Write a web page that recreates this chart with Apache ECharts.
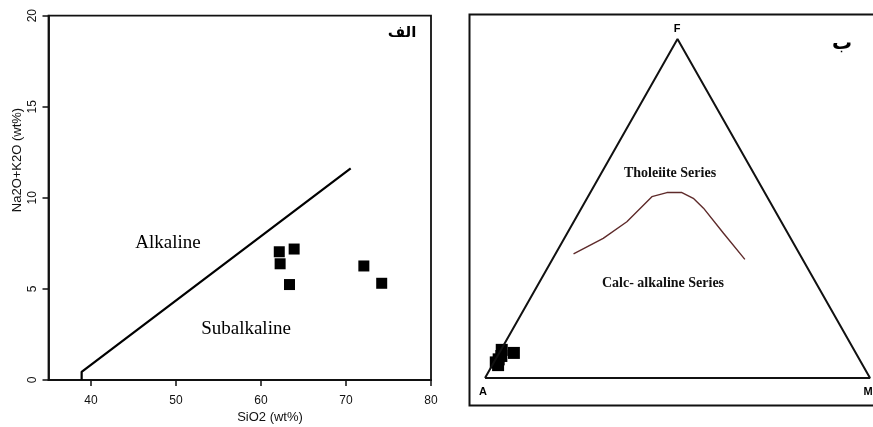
<!DOCTYPE html>
<html>
<head>
<meta charset="utf-8">
<script src="https://cdn.jsdelivr.net/npm/echarts@6/dist/echarts.min.js"></script>
<style>
html,body{margin:0;padding:0;background:#fff;}
#c{width:873px;height:427px;}
</style>
</head>
<body>
<div id="c"></div>
<script>
// ---- Left panel: TAS-type diagram (SiO2 vs Na2O+K2O) ----
const sampleSiO2 = [62.15, 63.9, 62.25, 63.35, 72.1, 74.2];
const sampleAlk  = [7.04, 7.19, 6.38, 5.24, 6.26, 5.31];
const boundarySiO2 = [38.9, 38.9, 70.55];
const boundaryAlk  = [0, 0.45, 11.62];
const xTicks = [40, 50, 60, 70, 80];
const yTicks = [0, 5, 10, 15, 20];

// ---- Right panel: AFM ternary diagram (A, F, M in %) ----
const cornerA = [100, 0, 0, 100];
const cornerF = [0, 0, 100, 0];
const cornerM = [0, 100, 0, 0];
const curveF = [36.6, 41.2, 46.1, 53.5, 54.7, 54.7, 53.0, 50.1, 42.7, 35.0];
const curveM = [4.7, 10.1, 13.8, 16.6, 19.9, 23.8, 27.6, 31.7, 40.6, 50.0];
const afmF = [8.3, 7.4, 6.5, 5.5, 3.8, 4.6];
const afmM = [0.2, 3.8, 1.0, 0.8, 1.5, 0.5];

function tern(F, M) { return [M + F / 2, F]; }

const chart = echarts.init(document.getElementById('c'), null, {renderer: 'canvas'});
const ink = '#111';
const sans = 'Liberation Sans, Arial, sans-serif';
const serif = 'Liberation Serif, Times New Roman, serif';
const ctr = {textAlign: 'center', textVerticalAlign: 'middle', align: 'center', verticalAlign: 'middle'};

const option = {
  backgroundColor: '#fff',
  animation: false,
  grid: [
    {left: 48.5, top: 15.7, width: 382.5, height: 364.3, show: true, borderColor: ink, borderWidth: 1.8, backgroundColor: 'transparent'},
    {left: 485, top: 39, width: 385, height: 339, show: false}
  ],
  xAxis: [
    {gridIndex: 0, type: 'value', min: 35, max: 80,
     axisLine: {show: true, lineStyle: {color: ink, width: 1.8}},
     axisTick: {show: true, length: 6, customValues: xTicks, lineStyle: {color: ink, width: 1.5}},
     axisLabel: {customValues: xTicks, fontSize: 12, color: '#111', fontFamily: sans, margin: 15},
     splitLine: {show: false}},
    {gridIndex: 1, type: 'value', min: 0, max: 100, show: false}
  ],
  yAxis: [
    {gridIndex: 0, type: 'value', min: 0, max: 20,
     axisLine: {show: true, lineStyle: {color: ink, width: 1.8}},
     axisTick: {show: true, length: 6, customValues: yTicks, lineStyle: {color: ink, width: 1.5}},
     axisLabel: {customValues: yTicks, fontSize: 12, color: '#111', fontFamily: sans, rotate: 90, margin: 10},
     splitLine: {show: false}},
    {gridIndex: 1, type: 'value', min: 0, max: 100, show: false}
  ],
  series: [
    {type: 'line', xAxisIndex: 0, yAxisIndex: 0,
     data: boundarySiO2.map((x, i) => [x, boundaryAlk[i]]),
     symbol: 'none', lineStyle: {color: '#000', width: 2.2}, clip: false},
    {type: 'scatter', xAxisIndex: 0, yAxisIndex: 0,
     data: sampleSiO2.map((x, i) => [x, sampleAlk[i]]),
     symbol: 'rect', symbolSize: 11, itemStyle: {color: '#000', opacity: 1}},
    {type: 'line', xAxisIndex: 1, yAxisIndex: 1,
     data: cornerF.map((f, i) => tern(f, cornerM[i])),
     symbol: 'none', lineStyle: {color: ink, width: 2}, clip: false},
    {type: 'line', xAxisIndex: 1, yAxisIndex: 1,
     data: curveF.map((f, i) => tern(f, curveM[i])),
     symbol: 'none', lineStyle: {color: '#5e2a2a', width: 1.4}, clip: false},
    {type: 'scatter', xAxisIndex: 1, yAxisIndex: 1,
     data: afmF.map((f, i) => tern(f, afmM[i])),
     symbol: 'rect', symbolSize: 12, itemStyle: {color: '#000', opacity: 1}, clip: false}
  ],
  graphic: [
    {type: 'text', x: 17, y: 160, rotation: Math.PI / 2,
     style: Object.assign({text: 'Na2O+K2O (wt%)', font: '13px ' + sans, fill: '#111'}, ctr)},
    {type: 'text', x: 270, y: 417,
     style: Object.assign({text: 'SiO2 (wt%)', font: '13px ' + sans, fill: '#111'}, ctr)},
    {type: 'text', x: 168, y: 243,
     style: Object.assign({text: 'Alkaline', font: '19px ' + serif, fill: '#000'}, ctr)},
    {type: 'text', x: 246, y: 329,
     style: Object.assign({text: 'Subalkaline', font: '19px ' + serif, fill: '#000'}, ctr)},
    {type: 'text', x: 402, y: 33,
     style: Object.assign({text: 'الف', font: 'bold 15px DejaVu Sans, sans-serif', fill: '#000'}, ctr)},
    {type: 'rect', shape: {x: 469.5, y: 14.5, width: 420, height: 391},
     style: {fill: 'none', stroke: ink, lineWidth: 2}},
    {type: 'text', x: 677, y: 29,
     style: Object.assign({text: 'F', font: 'bold 11px ' + sans, fill: '#000'}, ctr)},
    {type: 'text', x: 483, y: 392,
     style: Object.assign({text: 'A', font: 'bold 11px ' + sans, fill: '#000'}, ctr)},
    {type: 'text', x: 868, y: 392,
     style: Object.assign({text: 'M', font: 'bold 11px ' + sans, fill: '#000'}, ctr)},
    {type: 'text', x: 842, y: 44,
     style: Object.assign({text: 'ب', font: 'bold 20px DejaVu Sans, sans-serif', fill: '#000'}, ctr)},
    {type: 'text', x: 670, y: 173,
     style: Object.assign({text: 'Tholeiite Series', font: 'bold 14px ' + serif, fill: '#111'}, ctr)},
    {type: 'text', x: 663, y: 283,
     style: Object.assign({text: 'Calc- alkaline Series', font: 'bold 14px ' + serif, fill: '#111'}, ctr)}
  ]
};
chart.setOption(option);
</script>
</body>
</html>
